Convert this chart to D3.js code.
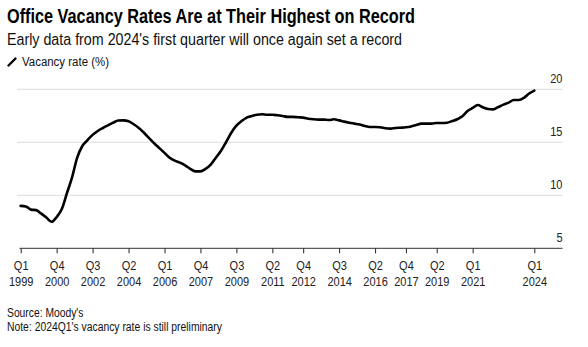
<!DOCTYPE html>
<html>
<head>
<meta charset="utf-8">
<script src="https://cdn.jsdelivr.net/npm/d3@7"></script>
<style>
  html, body { margin: 0; padding: 0; background: #fff; }
  svg { display: block; font-family: "Liberation Sans", Arial, sans-serif; }
</style>
</head>
<body>
<svg id="chart" width="588" height="347"></svg>
<script>
// ---- data ----
const startYear = 1999;
const quarters = [];
for (let k = 0; k < 101; k++) {
  quarters.push(`${startYear + Math.floor(k / 4)}Q${(k % 4) + 1}`);
}
const vacancyRate = [
  9.0, 8.95, 8.65, 8.6, 8.27, 7.9, 7.5, 7.95, 8.7, 10.2,
  11.7, 13.55, 14.65, 15.2, 15.7, 16.07, 16.35, 16.6, 16.85, 17.05,
  17.07, 16.98, 16.7, 16.35, 15.9, 15.4, 14.9, 14.45, 14.0, 13.55,
  13.27, 13.08, 12.83, 12.5, 12.26, 12.26, 12.5, 12.9, 13.55, 14.2,
  15.03, 15.9, 16.57, 17.0, 17.33, 17.48, 17.6, 17.64, 17.6, 17.6,
  17.55, 17.48, 17.4, 17.4, 17.36, 17.33, 17.23, 17.17, 17.14, 17.14,
  17.1, 17.17, 17.07, 16.95, 16.85, 16.76, 16.67, 16.54, 16.45, 16.45,
  16.42, 16.32, 16.29, 16.35, 16.38, 16.42, 16.5, 16.63, 16.76, 16.76,
  16.76, 16.82, 16.82, 16.85, 17.0, 17.17, 17.45, 17.95, 18.24, 18.52,
  18.3, 18.14, 18.11, 18.33, 18.55, 18.74, 18.99, 18.99, 19.2, 19.6,
  19.88
];
const xTickQuarters = ["1999Q1","2000Q4","2002Q3","2004Q2","2006Q1","2007Q4","2009Q3",
  "2011Q2","2012Q4","2014Q3","2016Q2","2017Q4","2019Q2","2021Q1","2024Q1"];
const yTicks = [5, 10, 15, 20];
const titleText = "Office Vacancy Rates Are at Their Highest on Record";
const subtitleText = "Early data from 2024's first quarter will once again set a record";
const legendText = "Vacancy rate (%)";
const sourceText = "Source: Moody's";
const noteText = "Note: 2024Q1's vacancy rate is still preliminary";

// ---- layout ----
const svg = d3.select("#chart");
const plotLeft = 20.7, plotRight = 534.3, gridLeft = 17, gridRight = 562.5;
const yTop = 89.3, yBottom = 248.3;

const x = d3.scalePoint().domain(quarters).range([plotLeft, plotRight]).padding(0);
const y = d3.scaleLinear().domain([5, 20]).range([yBottom, yTop]);

function fitWidth(sel, w) {
  sel.attr("textLength", w).attr("lengthAdjust", "spacingAndGlyphs");
}
function condense(sel, f) {
  sel.each(function () {
    const n = this.getComputedTextLength();
    d3.select(this).attr("textLength", n * f).attr("lengthAdjust", "spacingAndGlyphs");
  });
}

// title etc
svg.append("text").attr("x", 7).attr("y", 22.7)
  .attr("font-size", 20).attr("font-weight", "bold").attr("fill", "#000")
  .text(titleText).call(fitWidth, 408);
svg.append("text").attr("x", 7).attr("y", 45)
  .attr("font-size", 16).attr("fill", "#111")
  .text(subtitleText).call(fitWidth, 395);

// legend
svg.append("line").attr("x1", 8.5).attr("y1", 65.5).attr("x2", 15.5).attr("y2", 58.5)
  .attr("stroke", "#000").attr("stroke-width", 2.4).attr("stroke-linecap", "round");
svg.append("text").attr("x", 22).attr("y", 65.5)
  .attr("font-size", 12.5).attr("fill", "#111")
  .text(legendText).call(fitWidth, 87);

// gridlines
svg.append("g").selectAll("line").data(yTicks.filter(d => d > 5)).join("line")
  .attr("x1", gridLeft).attr("x2", gridRight)
  .attr("y1", d => y(d)).attr("y2", d => y(d))
  .attr("stroke", "#dcdcdc").attr("stroke-width", 1);

// y labels
svg.append("g").selectAll("text").data(yTicks).join("text")
  .attr("x", gridRight).attr("y", d => y(d) - 6.5)
  .attr("text-anchor", "end").attr("font-size", 12.5).attr("fill", "#222")
  .text(d => d).call(condense, 0.88);

// x axis
const xAxis = d3.axisBottom(x).tickValues(xTickQuarters).tickSize(5).tickSizeOuter(0).tickFormat("");
const gx = svg.append("g").attr("transform", `translate(0,${yBottom})`).call(xAxis);
gx.select(".domain").remove();
gx.selectAll(".tick line").attr("stroke", "#222").attr("stroke-width", 1);
svg.append("line").attr("x1", 19.5).attr("x2", gridRight)
  .attr("y1", yBottom).attr("y2", yBottom).attr("stroke", "#333").attr("stroke-width", 1);

const tickLabels = gx.selectAll(".tick").append("text")
  .attr("fill", "#222").attr("font-size", 12.5).attr("text-anchor", "middle");
tickLabels.append("tspan").attr("x", 0).attr("y", 22).text(d => "Q" + d.slice(5));
tickLabels.append("tspan").attr("x", 0).attr("y", 37.3).text(d => d.slice(0, 4));
tickLabels.selectAll("tspan").call(condense, 0.88);

// line
const line = d3.line()
  .x((d, i) => x(quarters[i]))
  .y(d => y(d))
  .curve(d3.curveMonotoneX);
svg.append("path").datum(vacancyRate)
  .attr("d", line).attr("fill", "none")
  .attr("stroke", "#000").attr("stroke-width", 2.6)
  .attr("stroke-linejoin", "round").attr("stroke-linecap", "round");

// footer
svg.append("text").attr("x", 7).attr("y", 316.5)
  .attr("font-size", 12).attr("fill", "#111")
  .text(sourceText).call(fitWidth, 76.5);
svg.append("text").attr("x", 7).attr("y", 331)
  .attr("font-size", 12).attr("fill", "#111")
  .text(noteText).call(fitWidth, 215);
</script>
</body>
</html>
